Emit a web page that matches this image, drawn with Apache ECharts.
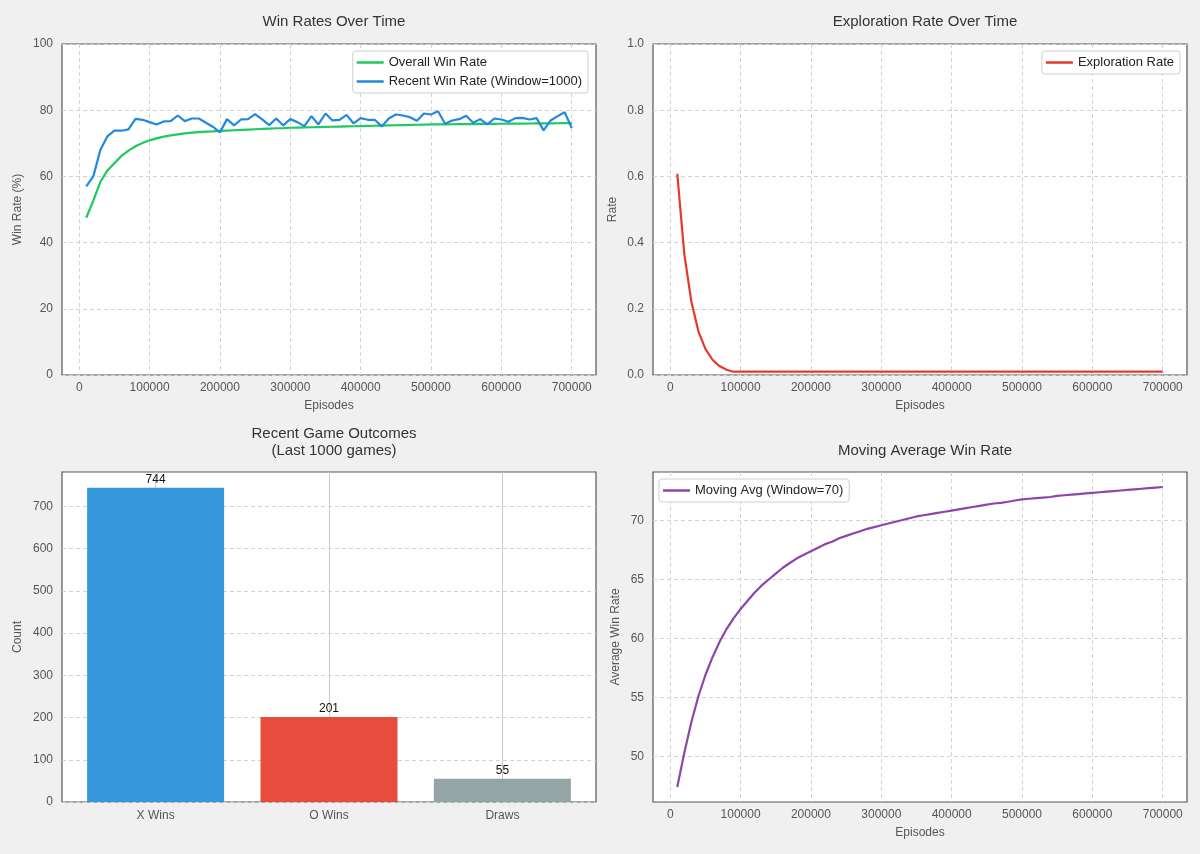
<!DOCTYPE html>
<html>
<head>
<meta charset="utf-8">
<script src="https://cdn.jsdelivr.net/npm/echarts@6/dist/echarts.min.js"></script>
<style>
  html, body { margin: 0; padding: 0; background: #f0f0f0; }
  #main { width: 1200px; height: 854px; }
</style>
</head>
<body>
<div id="main"></div>
<script>
// episodes on the x axis (every 10000)
var episodes = [
  10000, 20000, 30000, 40000, 50000, 60000, 70000, 80000, 90000, 100000,
  110000, 120000, 130000, 140000, 150000, 160000, 170000, 180000, 190000, 200000,
  210000, 220000, 230000, 240000, 250000, 260000, 270000, 280000, 290000, 300000,
  310000, 320000, 330000, 340000, 350000, 360000, 370000, 380000, 390000, 400000,
  410000, 420000, 430000, 440000, 450000, 460000, 470000, 480000, 490000, 500000,
  510000, 520000, 530000, 540000, 550000, 560000, 570000, 580000, 590000, 600000,
  610000, 620000, 630000, 640000, 650000, 660000, 670000, 680000, 690000, 700000
];
var overallWin = [
  47.5, 52.7, 58.3, 61.8, 64.0, 66.2, 67.8, 69.1, 70.1, 70.9,
  71.5, 72.0, 72.4, 72.7, 73.0, 73.2, 73.35, 73.5, 73.6, 73.75,
  73.85, 73.95, 74.05, 74.15, 74.25, 74.35, 74.45, 74.55, 74.6, 74.7,
  74.75, 74.8, 74.85, 74.9, 74.95, 75.0, 75.05, 75.1, 75.15, 75.2,
  75.25, 75.3, 75.35, 75.4, 75.45, 75.5, 75.55, 75.6, 75.65, 75.7,
  75.72, 75.74, 75.76, 75.78, 75.8, 75.82, 75.84, 75.86, 75.88, 75.9,
  75.92, 75.94, 75.96, 75.98, 76.0, 76.02, 76.04, 76.06, 76.08, 76.1
];
var recentWin = [
  57, 60, 68, 72.1, 73.8, 73.8, 74.2, 77.4, 77.1, 76.4,
  75.7, 76.6, 76.7, 78.4, 76.7, 77.5, 77.5, 76.2, 75, 73.3,
  77.3, 75.4, 77.2, 77.3, 78.8, 77.2, 75.5, 77.5, 75.4, 77.3,
  76.4, 75.2, 78.2, 75.7, 79, 76.9, 77.1, 78.6, 76, 77.6,
  77.1, 77.1, 75.1, 77.5, 78.7, 78.4, 77.9, 76.8, 79, 78.7,
  79.7, 75.9, 76.9, 77.3, 78.3, 76.2, 77.3, 75.7, 77.5, 77.2,
  76.5, 77.6, 77.7, 77.2, 77.6, 73.9, 76.9, 78.2, 79.4, 74.6
];
var exploration = [
  0.608, 0.365, 0.222, 0.132, 0.079, 0.046, 0.027, 0.016, 0.01, 0.01,
  0.01, 0.01, 0.01, 0.01, 0.01, 0.01, 0.01, 0.01, 0.01, 0.01,
  0.01, 0.01, 0.01, 0.01, 0.01, 0.01, 0.01, 0.01, 0.01, 0.01,
  0.01, 0.01, 0.01, 0.01, 0.01, 0.01, 0.01, 0.01, 0.01, 0.01,
  0.01, 0.01, 0.01, 0.01, 0.01, 0.01, 0.01, 0.01, 0.01, 0.01,
  0.01, 0.01, 0.01, 0.01, 0.01, 0.01, 0.01, 0.01, 0.01, 0.01,
  0.01, 0.01, 0.01, 0.01, 0.01, 0.01, 0.01, 0.01, 0.01, 0.01
];
var movingAvg = [
  47.4, 50.3, 52.9, 55.1, 56.9, 58.4, 59.7, 60.8, 61.7, 62.5,
  63.2, 63.9, 64.5, 65.0, 65.5, 66.0, 66.4, 66.8, 67.1, 67.4,
  67.7, 68.0, 68.2, 68.5, 68.7, 68.9, 69.1, 69.3, 69.45, 69.6,
  69.75, 69.9, 70.05, 70.2, 70.35, 70.45, 70.55, 70.65, 70.75, 70.85,
  70.95, 71.05, 71.15, 71.25, 71.35, 71.45, 71.5, 71.6, 71.7, 71.8,
  71.85, 71.9, 71.95, 72.0, 72.1, 72.15, 72.2, 72.25, 72.3, 72.35,
  72.4, 72.45, 72.5, 72.55, 72.6, 72.65, 72.7, 72.75, 72.8, 72.85
];
// bar chart
var outcomeCats = ["X Wins", "O Wins", "Draws"];
var outcomeCounts = [744, 201, 55];
var outcomeColors = ["#3498db", "#e74c3c", "#95a5a6"];
// tick labels
var episodeTicks = [0, 100000, 200000, 300000, 400000, 500000, 600000, 700000];
var movingTicks = [50, 55, 60, 65, 70];
var countTicks = [0, 100, 200, 300, 400, 500, 600, 700];

var FONT = "Liberation Sans, Arial, sans-serif";
var chart = echarts.init(document.getElementById("main"));

function pairs(ys) {
  return episodes.map(function(x, i) { return [x, ys[i]]; });
}

var gridBase = {
  show: true,
  backgroundColor: "#fff",
  borderColor: "#555",
  borderWidth: 1.2
};

var splitDash = {
  show: true,
  lineStyle: { color: "#d3d3d3", type: [4, 3], width: 1 }
};

var labelStyle = { color: "#555", fontSize: 12, fontFamily: FONT };
var nameStyle = { color: "#555", fontSize: 12, fontFamily: FONT };

function episodeAxis(gridIndex) {
  return {
    type: "value",
    gridIndex: gridIndex,
    min: -24500,
    max: 734500,
    name: "Episodes",
    nameLocation: "middle",
    nameGap: 25,
    nameTextStyle: nameStyle,
    axisLine: { show: false },
    axisTick: { show: false, customValues: episodeTicks },
    axisLabel: Object.assign({}, labelStyle, {
      margin: 7,
      customValues: episodeTicks,
      formatter: function(v) { return String(v); }
    }),
    splitLine: splitDash
  };
}

function legendBox(extra) {
  return Object.assign({
    orient: "vertical",
    icon: "rect",
    itemWidth: 27,
    itemHeight: 2.5,
    itemGap: 4,
    padding: [4, 6, 4, 4],
    backgroundColor: "#fff",
    borderColor: "#cfcfcf",
    borderWidth: 1,
    borderRadius: 3,
    textStyle: { color: "#222", fontSize: 13, fontFamily: FONT, lineHeight: 15 }
  }, extra);
}

var titleStyle = { color: "#333", fontSize: 15, fontWeight: "normal", fontFamily: FONT, lineHeight: 17 };

var option = {
  backgroundColor: "#f0f0f0",
  animation: false,
  title: [
    { text: "Win Rates Over Time", left: 329, top: 8, textAlign: "center", textStyle: titleStyle },
    { text: "Exploration Rate Over Time", left: 920, top: 8, textAlign: "center", textStyle: titleStyle },
    { text: "Recent Game Outcomes\n(Last 1000 games)", left: 329, top: 420, textAlign: "center", textStyle: titleStyle },
    { text: "Moving Average Win Rate", left: 920, top: 437, textAlign: "center", textStyle: titleStyle }
  ],
  legend: [
    legendBox({ data: ["Overall Win Rate", "Recent Win Rate (Window=1000)"], right: 612, top: 51 }),
    legendBox({ data: ["Exploration Rate"], right: 20, top: 51 }),
    legendBox({ data: ["Moving Avg (Window=70)"], left: 659, top: 479 })
  ],
  grid: [
    Object.assign({ left: 62, top: 44, width: 534, height: 331 }, gridBase),
    Object.assign({ left: 653, top: 44, width: 534, height: 331 }, gridBase),
    Object.assign({ left: 62, top: 472, width: 534, height: 330 }, gridBase),
    Object.assign({ left: 653, top: 472, width: 534, height: 330 }, gridBase)
  ],
  xAxis: [
    episodeAxis(0),
    episodeAxis(1),
    {
      type: "value",
      gridIndex: 2,
      min: -0.54,
      max: 2.54,
      axisLine: { show: false },
      axisTick: { show: false, customValues: [0, 1, 2] },
      axisLabel: Object.assign({}, labelStyle, {
        margin: 8,
        customValues: [0, 1, 2],
        formatter: function(v) { return outcomeCats[Math.round(v)]; }
      }),
      splitLine: { show: true, lineStyle: { color: "#cccccc", type: "solid", width: 1 } }
    },
    episodeAxis(3)
  ],
  yAxis: [
    {
      type: "value", gridIndex: 0, min: 0, max: 100, interval: 20,
      name: "Win Rate (%)", nameLocation: "middle", nameGap: 38, nameTextStyle: nameStyle,
      axisLine: { show: false }, axisTick: { show: false },
      axisLabel: Object.assign({ margin: 9 }, labelStyle),
      splitLine: splitDash
    },
    {
      type: "value", gridIndex: 1, min: 0, max: 1, interval: 0.2,
      name: "Rate", nameLocation: "middle", nameGap: 34, nameTextStyle: nameStyle,
      axisLine: { show: false }, axisTick: { show: false },
      axisLabel: Object.assign({ margin: 9, formatter: function(v) { return v.toFixed(1); } }, labelStyle),
      splitLine: splitDash
    },
    {
      type: "value", gridIndex: 2, min: 0, max: 781.2,
      name: "Count", nameLocation: "middle", nameGap: 38, nameTextStyle: nameStyle,
      axisLine: { show: false }, axisTick: { show: false, customValues: countTicks },
      axisLabel: Object.assign({ margin: 9, customValues: countTicks }, labelStyle),
      splitLine: splitDash
    },
    {
      type: "value", gridIndex: 3, min: 46.13, max: 74.12,
      name: "Average Win Rate", nameLocation: "middle", nameGap: 31, nameTextStyle: nameStyle,
      axisLine: { show: false }, axisTick: { show: false, customValues: movingTicks },
      axisLabel: Object.assign({ margin: 9, customValues: movingTicks }, labelStyle),
      splitLine: splitDash
    }
  ],
  series: [
    {
      name: "Overall Win Rate", type: "line", xAxisIndex: 0, yAxisIndex: 0,
      data: pairs(overallWin), showSymbol: false,
      itemStyle: { color: "#1ec95f" }, lineStyle: { color: "#1ec95f", width: 2.2 }
    },
    {
      name: "Recent Win Rate (Window=1000)", type: "line", xAxisIndex: 0, yAxisIndex: 0,
      data: pairs(recentWin), showSymbol: false,
      itemStyle: { color: "#2389dd" }, lineStyle: { color: "#2389dd", width: 2.2 }
    },
    {
      name: "Exploration Rate", type: "line", xAxisIndex: 1, yAxisIndex: 1,
      data: pairs(exploration), showSymbol: false,
      itemStyle: { color: "#e33a2a" }, lineStyle: { color: "#e33a2a", width: 2.2 }
    },
    {
      name: "Outcomes", type: "bar", xAxisIndex: 2, yAxisIndex: 2,
      barWidth: 137,
      data: outcomeCounts.map(function(v, i) {
        return { value: [i, v], itemStyle: { color: outcomeColors[i] } };
      }),
      label: {
        show: true, position: "top", distance: 2,
        color: "#111", fontSize: 12, fontFamily: FONT,
        formatter: function(p) { return p.value[1]; }
      }
    },
    {
      name: "Moving Avg (Window=70)", type: "line", xAxisIndex: 3, yAxisIndex: 3,
      data: pairs(movingAvg), showSymbol: false,
      itemStyle: { color: "#8e44ad" }, lineStyle: { color: "#8e44ad", width: 2.2 }
    }
  ]
};

chart.setOption(option);
</script>
</body>
</html>
